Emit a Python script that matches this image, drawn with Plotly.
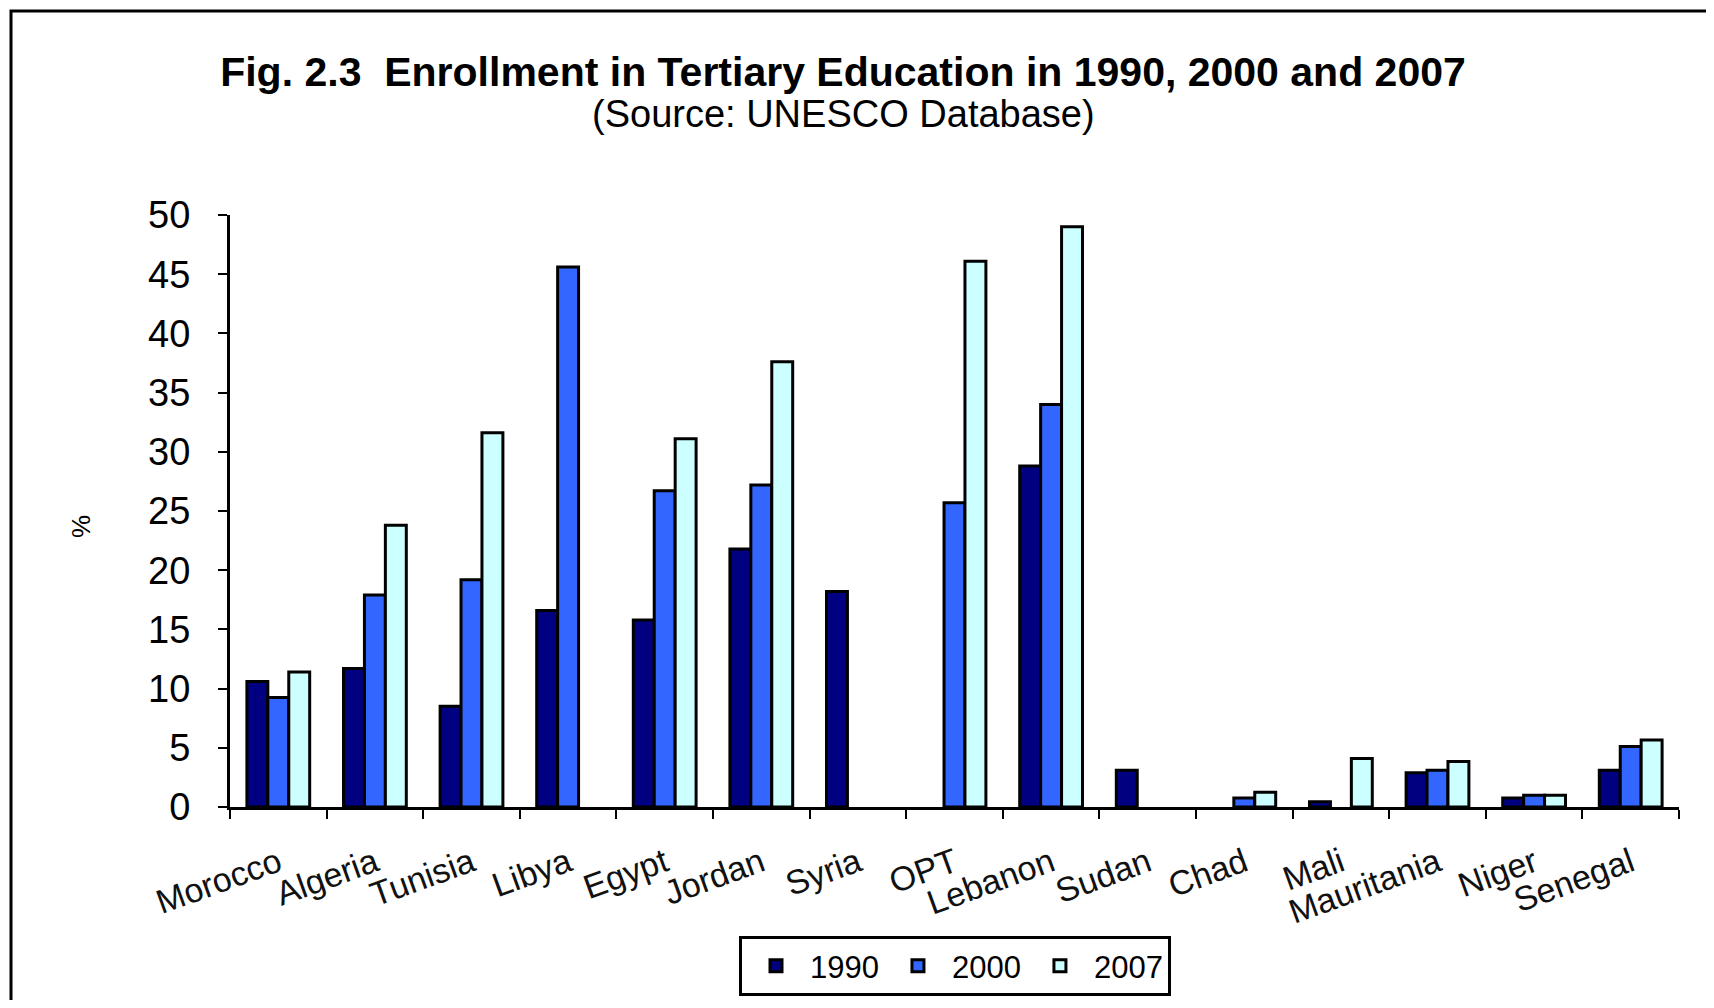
import plotly.graph_objects as go

countries = ["Morocco", "Algeria", "Tunisia", "Libya", "Egypt", "Jordan", "Syria",
             "OPT", "Lebanon", "Sudan", "Chad", "Mali", "Mauritania", "Niger", "Senegal"]

years = ["1990", "2000", "2007"]
y1990 = [10.6, 11.7, 8.5, 16.6, 15.8, 21.8, 18.2, None, 28.8, 3.1, None, 0.45, 2.9, 0.75, 3.1]
y2000 = [9.25, 17.9, 19.2, 45.6, 26.7, 27.2, None, 25.7, 34.0, None, 0.75, None, 3.1, 1.0, 5.1]
y2007 = [11.4, 23.8, 31.6, None, 31.1, 37.6, None, 46.1, 49.0, None, 1.25, 4.1, 3.85, 1.0, 5.65]
colors = ["#000080", "#3366FF", "#CCFFFF"]

y_ticks = list(range(0, 55, 5))
grid_ticks = list(range(5, 50, 5))

FONT = "Liberation Sans, Arial, sans-serif"
OFF = 8  # page body margin of the html
W, H = 1714 - 2 * OFF, 1008 - 2 * OFF
L, T = 230 - OFF, 215 - OFF
R = W - (1679 - OFF)
B = H - (807 - OFF)
pw, ph = W - L - R, H - T - B


def px(x):
    return (x - OFF - L) / pw


def py_(y):
    return (T + ph - (y - OFF)) / ph


fig = go.Figure()
for name, vals, col in zip(years, [y1990, y2000, y2007], colors):
    fig.add_trace(go.Bar(
        x=countries, y=vals, name=name, yaxis="y2",
        marker=dict(color=col, line=dict(color="black", width=3)),
    ))

fig.update_layout(
    width=W, height=H,
    margin=dict(l=L, r=R, t=T, b=B, autoexpand=False),
    paper_bgcolor="white", plot_bgcolor="white",
    font=dict(family=FONT, color="black"),
    barmode="group", bargap=0.35, bargroupgap=0,
    title=dict(
        text="<b>Fig. 2.3\u00a0 Enrollment in Tertiary Education in 1990, 2000 and 2007</b>",
        font=dict(size=41, color="black"),
        xref="container", x=(843 - OFF) / W, xanchor="center",
        yref="container", y=1 - (72 - OFF) / H, yanchor="middle",
    ),
    xaxis=dict(
        tickangle=-20, tickfont=dict(size=34, color="#111"),
        showline=True, linecolor="black", linewidth=3,
        ticks="outside", tickson="boundaries", ticklen=9, tickwidth=2, tickcolor="black",
        showgrid=False, ticklabelstandoff=20, automargin=False,
    ),
    # grid-only axis (dashed lines 5..45)
    yaxis=dict(
        range=[0, 50], tickmode="array", tickvals=grid_ticks,
        showgrid=True, gridcolor="black", gridwidth=3, griddash="10px,5px",
        showticklabels=False, ticks="", showline=False, zeroline=False, automargin=False,
    ),
    # visible value axis
    yaxis2=dict(
        range=[0, 50], overlaying="y", side="left", anchor="x",
        tickmode="array", tickvals=y_ticks,
        tickfont=dict(size=38, color="black"),
        showline=True, linecolor="black", linewidth=3,
        ticks="outside", ticklen=9, tickwidth=2, tickcolor="black",
        showgrid=False, zeroline=False, ticklabelstandoff=20, automargin=False,
    ),
    legend=dict(
        orientation="h", x=px(955), xanchor="center", y=py_(996), yanchor="bottom",
        font=dict(size=31, color="black"),
        bordercolor="black", borderwidth=3, bgcolor="white",
        itemwidth=58,
    ),
    annotations=[
        dict(text="(Source: UNESCO Database)", xref="paper", yref="paper",
             x=px(843), y=py_(114), xanchor="center", yanchor="middle",
             showarrow=False, font=dict(size=38, color="black")),
        dict(text="%", xref="paper", yref="paper", textangle=-90,
             x=px(81), y=py_(527), xanchor="center", yanchor="middle",
             showarrow=False, font=dict(size=26, color="black")),
    ],
    shapes=[
        # outer frame, only left and top edges fall inside the picture
        dict(type="rect", xref="paper", yref="paper", layer="below",
             x0=px(11), x1=px(1740), y0=py_(1030), y1=py_(11),
             line=dict(color="black", width=3), fillcolor="rgba(0,0,0,0)"),
    ],
)

fig.write_html("out.html")
